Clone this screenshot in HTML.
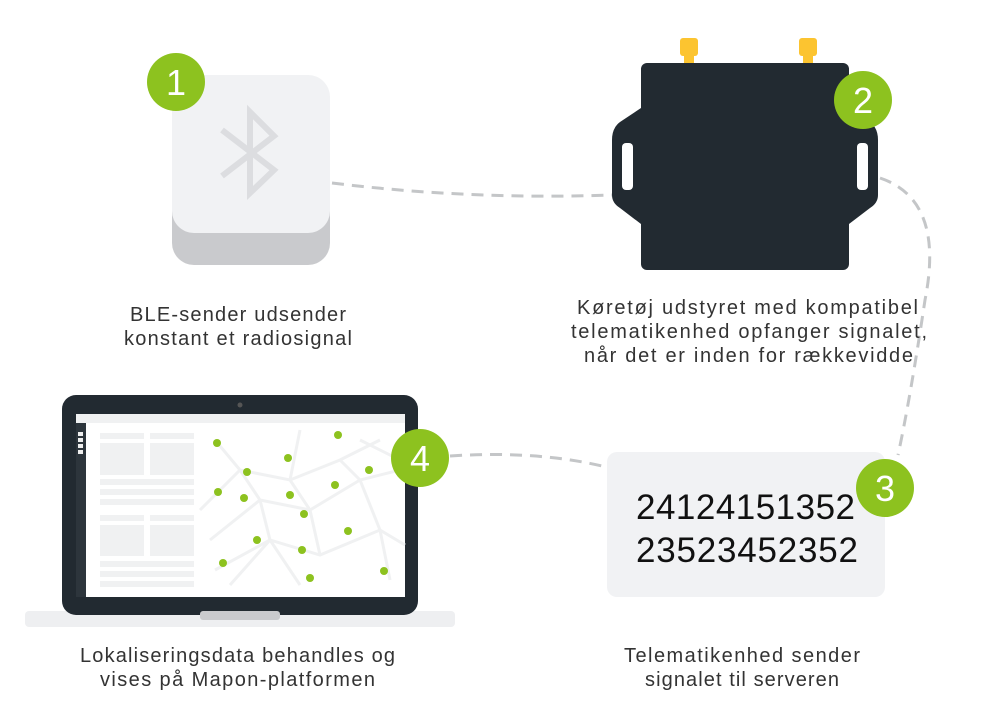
<!DOCTYPE html>
<html><head><style>
body{margin:0;background:#fff;}
svg{display:block}
text{font-family:"Liberation Sans",sans-serif;}
</style></head><body>
<svg width="1000" height="705" viewBox="0 0 1000 705" xmlns="http://www.w3.org/2000/svg">
<g fill="none" stroke="#c4c6c8" stroke-width="3" stroke-dasharray="12 8">
<path d="M332 183 Q470 200 612 195"/>
<path d="M880 178 Q945 200 925 300 Q910 400 898 455"/>
<path d="M450 456 Q540 450 610 468"/>
</g>
<rect x="172" y="150" width="158" height="115" rx="22" fill="#c9cacd"/>
<rect x="172" y="75" width="158" height="158" rx="22" fill="#f1f2f4"/>
<g fill="none" stroke="#dcdde0" stroke-width="6" stroke-linejoin="miter">
<path d="M222 130 L274 170 L250 193 L250 112 L274 136 L222 176"/>
</g>
<circle cx="176" cy="82" r="29" fill="#8dc21f"/>
<text x="176" y="95" font-size="36" fill="#fff" text-anchor="middle">1</text>
<rect x="680" y="38" width="18" height="18" rx="3" fill="#fcc430"/>
<rect x="684" y="50" width="10" height="15" fill="#fcc430"/>
<rect x="799" y="38" width="18" height="18" rx="3" fill="#fcc430"/>
<rect x="803" y="50" width="10" height="15" fill="#fcc430"/>
<rect x="641" y="63" width="208" height="207" rx="6" fill="#222a31"/>
<path d="M641 108 L620 122 Q612 128 612 140 L612 195 Q612 203 620 208 L641 224 Z" fill="#222a31"/>
<path d="M849 108 L870 122 Q878 128 878 140 L878 195 Q878 203 870 208 L849 224 Z" fill="#222a31"/>
<rect x="622" y="143" width="11" height="47" rx="4" fill="#fff"/>
<rect x="857" y="143" width="11" height="47" rx="4" fill="#fff"/>
<circle cx="863" cy="100" r="29" fill="#8dc21f"/>
<text x="863" y="113" font-size="36" fill="#fff" text-anchor="middle">2</text>
<g font-size="20" fill="#333" lengthAdjust="spacing">
<text x="130" y="321" textLength="216">BLE-sender udsender</text>
<text x="124" y="345" textLength="228">konstant et radiosignal</text>
<text x="577" y="314" textLength="341">Køretøj udstyret med kompatibel</text>
<text x="571" y="338" textLength="356">telematikenhed opfanger signalet,</text>
<text x="584" y="362" textLength="329">når det er inden for rækkevidde</text>
<text x="80" y="662" textLength="315">Lokaliseringsdata behandles og</text>
<text x="100" y="686" textLength="275">vises på Mapon-platformen</text>
<text x="624" y="662" textLength="236">Telematikenhed sender</text>
<text x="645" y="686" textLength="194">signalet til serveren</text>
</g>
<rect x="25" y="611" width="430" height="16" rx="4" fill="#eeeff1"/>
<rect x="62" y="395" width="356" height="220" rx="14" fill="#222a31"/>
<rect x="200" y="611" width="80" height="9" rx="3" fill="#c9cacd"/>
<circle cx="240" cy="405" r="2.5" fill="#555"/>
<rect x="76" y="414" width="329" height="183" fill="#fff"/>
<rect x="76" y="414" width="329" height="9" fill="#f0f1f2"/>
<rect x="76" y="423" width="10" height="174" fill="#2d353c"/>
<g fill="#eee">
<rect x="78" y="432" width="5" height="4"/><rect x="78" y="438" width="5" height="4"/><rect x="78" y="444" width="5" height="4"/><rect x="78" y="450" width="5" height="4"/>
</g>
<g fill="#f0f1f2">
<rect x="100" y="433" width="44" height="6"/><rect x="150" y="433" width="44" height="6"/>
<rect x="100" y="443" width="44" height="32"/><rect x="150" y="443" width="44" height="32"/>
<rect x="100" y="479" width="94" height="6"/><rect x="100" y="489" width="94" height="6"/><rect x="100" y="499" width="94" height="6"/>
<rect x="100" y="515" width="44" height="6"/><rect x="150" y="515" width="44" height="6"/>
<rect x="100" y="525" width="44" height="31"/><rect x="150" y="525" width="44" height="31"/>
<rect x="100" y="561" width="94" height="6"/><rect x="100" y="571" width="94" height="6"/><rect x="100" y="581" width="94" height="6"/>
</g>
<g fill="none" stroke="#f0f1f2" stroke-width="3">
<path d="M200 510 L240 470 L290 480 L340 460 L380 440 M210 540 L260 500 L310 510 L360 480 L400 470 M215 570 L270 540 L320 555 L380 530 L405 545 M240 470 L260 500 L270 540 L300 585 M290 480 L310 510 L320 555 M340 460 L360 480 L380 530 L390 580 M215 440 L240 470 M300 430 L290 480 M360 440 L400 460 M230 585 L270 540"/>
</g>
<g fill="#8dc21f">
<circle cx="217" cy="443" r="4"/><circle cx="338" cy="435" r="4"/><circle cx="288" cy="458" r="4"/><circle cx="247" cy="472" r="4"/><circle cx="369" cy="470" r="4"/><circle cx="218" cy="492" r="4"/><circle cx="244" cy="498" r="4"/><circle cx="290" cy="495" r="4"/><circle cx="335" cy="485" r="4"/><circle cx="304" cy="514" r="4"/><circle cx="348" cy="531" r="4"/><circle cx="257" cy="540" r="4"/><circle cx="302" cy="550" r="4"/><circle cx="223" cy="563" r="4"/><circle cx="384" cy="571" r="4"/><circle cx="310" cy="578" r="4"/>
</g>
<circle cx="420" cy="458" r="29" fill="#8dc21f"/>
<text x="420" y="471" font-size="36" fill="#fff" text-anchor="middle">4</text>
<rect x="607" y="452" width="278" height="145" rx="10" fill="#f1f2f4"/>
<text x="636" y="519" font-size="35" fill="#111" textLength="219" lengthAdjust="spacing">24124151352</text>
<text x="636" y="562" font-size="35" fill="#111" textLength="222" lengthAdjust="spacing">23523452352</text>
<circle cx="885" cy="488" r="29" fill="#8dc21f"/>
<text x="885" y="501" font-size="36" fill="#fff" text-anchor="middle">3</text>
</svg>
</body></html>
